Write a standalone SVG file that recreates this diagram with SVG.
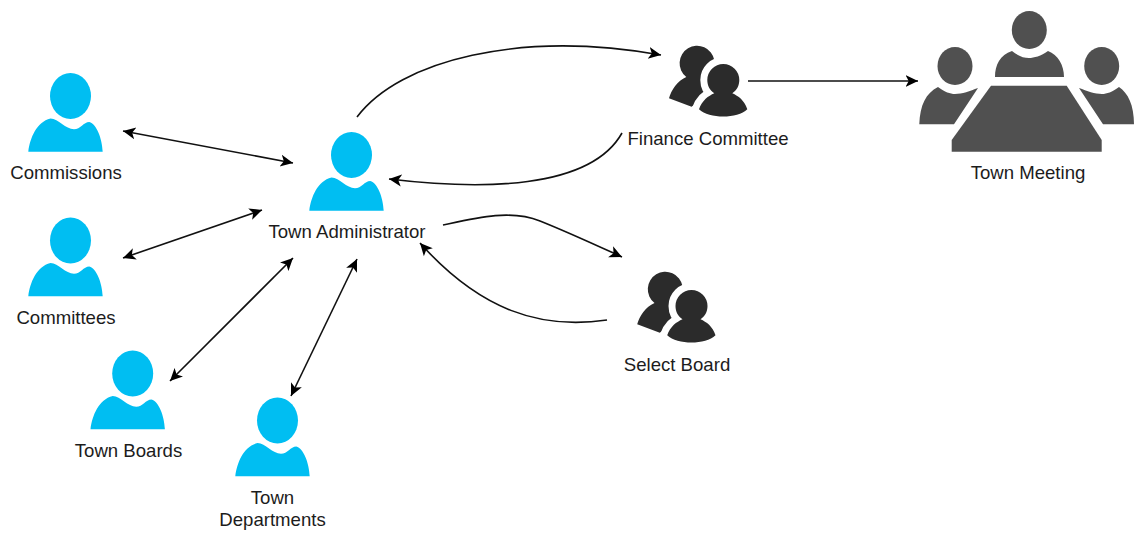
<svg xmlns="http://www.w3.org/2000/svg" xmlns:xlink="http://www.w3.org/1999/xlink" width="1134" height="535" viewBox="0 0 1134 535">
<style>
text{font-family:"Liberation Sans",Arial,sans-serif;font-size:18.6px;fill:#1c1c1c;text-anchor:middle}
.c{fill:none;stroke:#111;stroke-width:1.6}
.p{fill:#00bef2}
.g{fill:#2b2b2b}
.m{fill:#505050}
</style>
<defs>
<marker id="a" markerUnits="userSpaceOnUse" markerWidth="14" markerHeight="14" refX="12.5" refY="7" orient="auto-start-reverse"><path d="M0,1 L12.5,7 L0,13 L3.2,7 Z" fill="#000"/></marker>
<symbol id="person" overflow="visible"><ellipse cx="0" cy="0" rx="20.5" ry="23"/><path d="M-42.2,55.7C-40.5,42-34,26-20,22.5C-12,22.5-5,33.3 3.5,33.3C10,33.3 13,26 18.8,26C26,28 31.5,42 32.2,55.7Z"/></symbol>
<path id="front" d="M-24.3,29.3C-21,20-15,16-9,13.2C-13.5,10.5-16,5.5-16,0A16,16 0 0 1 16,0C16,5.5 13.5,10.5 9,13.2C15,16 21,20 24,29.3C14,39-14,39-24.3,29.3Z"/>
<symbol id="group" overflow="visible">
<path d="M-9,-20A17.5,17.5 0 1 0 -37,-3C-46,1-52,10-54.3,18.3L-31.7,26.7L-10,10Z"/>
<use href="#front" fill="#fff" stroke="#fff" stroke-width="14" stroke-linejoin="round"/>
<use href="#front"/>
</symbol>
</defs>
<g id="connectors">
<path class="c" marker-start="url(#a)" marker-end="url(#a)" d="M123,131L293,163"/>
<path class="c" marker-start="url(#a)" marker-end="url(#a)" d="M123,258L262,210"/>
<path class="c" marker-start="url(#a)" marker-end="url(#a)" d="M170,381L293,258"/>
<path class="c" marker-start="url(#a)" marker-end="url(#a)" d="M291,396L357,259"/>
<path class="c" marker-end="url(#a)" d="M357,117C400,60 520,30 661,55"/>
<path class="c" marker-end="url(#a)" d="M622,133C590,190 480,190 389,179"/>
<path class="c" marker-end="url(#a)" d="M443,225C475,218 510,209 540,221C570,233 600,247 622,257"/>
<path class="c" marker-end="url(#a)" d="M607,320C540,330 480,310 420,243"/>
<path class="c" marker-end="url(#a)" d="M748,81L918,81"/>
</g>
<g id="commissions"><use class="p" href="#person" x="70.5" y="96"/><text x="66" y="179">Commissions</text></g>
<g id="committees"><use class="p" href="#person" x="70.5" y="240.5"/><text x="66" y="324">Committees</text></g>
<g id="town-administrator"><use class="p" href="#person" x="351.5" y="155"/><text x="347" y="238">Town Administrator</text></g>
<g id="town-boards"><use class="p" href="#person" x="132.7" y="373.5"/><text x="128.5" y="457">Town Boards</text></g>
<g id="town-departments"><use class="p" href="#person" x="277.5" y="420.5"/><text x="272.5" y="504">Town</text><text x="272.5" y="526">Departments</text></g>
<g id="finance-committee"><use class="g" href="#group" x="723.3" y="80"/><text x="708" y="145">Finance Committee</text></g>
<g id="select-board"><use class="g" href="#group" x="691.5" y="306"/><text x="677" y="371">Select Board</text></g>
<g id="town-meeting" class="m">
<ellipse cx="1029.3" cy="30" rx="17.5" ry="19"/>
<path d="M995,77C995,65 1000,55 1012,51C1018,56 1024,58 1029,58C1034,58 1041,56 1048,51C1058,55 1064,65 1064,77Z"/>
<ellipse cx="955" cy="66" rx="17.5" ry="19"/>
<path d="M919.3,124.3C920,105 926,93 938,87C945,92 950,94 955,94C962,94 970,91 978,88L954,124.3Z"/>
<ellipse cx="1101.7" cy="66" rx="17.5" ry="19"/>
<path d="M1134,124.3C1134,105 1128,93 1119,87C1112,92 1107,94 1102,94C1095,94 1087,91 1079,88L1103,124.3Z"/>
<path d="M991,85.7L1066.7,85.7L1101.7,140L1101.7,151.7L951.7,151.7L951.7,140Z"/>
<text x="1028" y="179">Town Meeting</text>
</g>
</svg>
